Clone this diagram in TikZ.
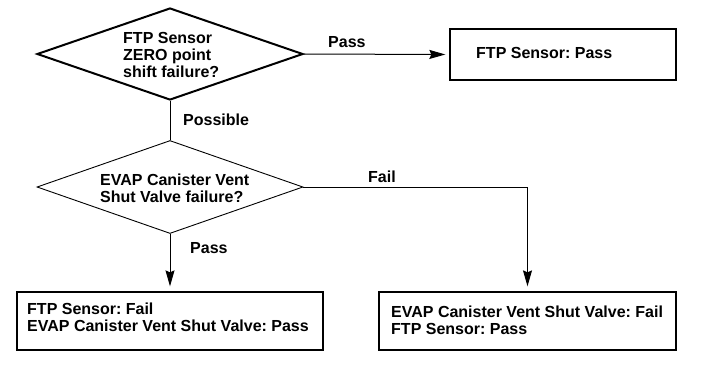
\documentclass[tikz,border=0pt]{standalone}
\usepackage{fontspec}
\setmainfont{Liberation Sans}
\usetikzlibrary{shapes.geometric,arrows.meta}
\frenchspacing
\begin{document}
\begin{tikzpicture}[x=1pt,y=-1pt,
  every node/.style={font=\fontsize{16}{17}\selectfont\bfseries},
  dia/.style={draw,diamond,inner sep=0pt,minimum width=266pt,minimum height=92pt},
  box/.style={draw,rectangle,line width=1.3pt,inner sep=0pt},
  txt/.style={align=left,inner sep=0pt,anchor=west},
  lbl/.style={inner sep=0pt,anchor=base west},
  conn/.style={line width=1pt},
  arr/.style={conn,-{Stealth[length=16pt,width=9pt,inset=2pt]}}]
\useasboundingbox (0,0) rectangle (712,376);
% decisions
\node[dia,line width=2pt] (d1) at (170,54) {};
\node[txt] (d1t) at (123,55) {FTP Sensor\\ZERO point\\shift failure?};
\node[dia,line width=0.9pt,minimum height=93pt] (d2) at (170,187) {};
\node[txt] (d2t) at (100,188) {EVAP Canister Vent\\Shut Valve failure?};
% result boxes
\node[box,minimum width=226pt,minimum height=51pt] (b1) at (563,54.5) {};
\node[lbl] (b1t) at (476,58) {FTP Sensor: Pass};
\node[box,minimum width=306pt,minimum height=58pt] (b2) at (170,321) {};
\node[txt] (b2t) at (27,317.5) {FTP Sensor: Fail\\EVAP Canister Vent Shut Valve: Pass};
\node[box,minimum width=297pt,minimum height=58pt] (b3) at (527.5,321) {};
\node[txt] (b3t) at (391,320.5) {EVAP Canister Vent Shut Valve: Fail\\FTP Sensor: Pass};
% connectors
\draw[arr,shorten >=4pt] (d1.east) -- (b1.west);
\draw[conn] (d1.south) -- (d2.north);
\draw[arr,shorten >=5pt] (d2.south) -- (b2.north);
\draw[arr,shorten >=5pt] (d2.east) -| (b3.north);
% labels
\node[lbl] (lpass1) at (328,47) {Pass};
\node[lbl] (lposs) at (183,125) {Possible};
\node[lbl] (lfail) at (368,182) {Fail};
\node[lbl] (lpass2) at (190,253) {Pass};
\end{tikzpicture}
\end{document}
